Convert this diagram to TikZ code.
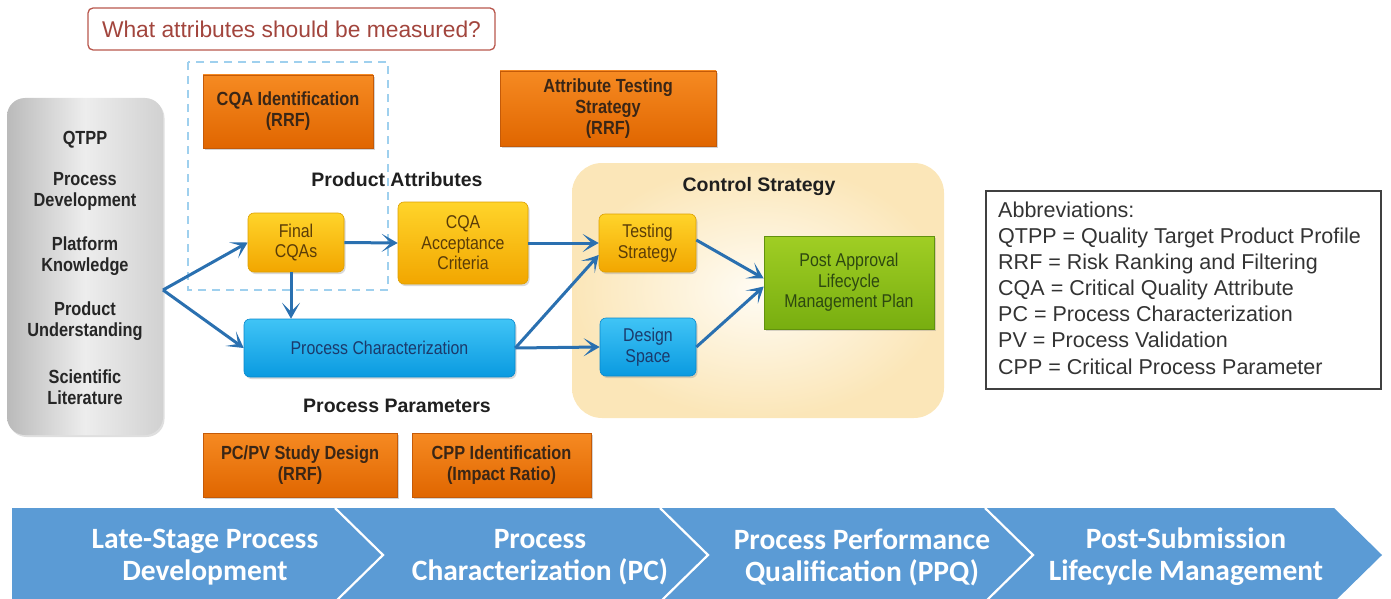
\documentclass[tikz,border=0pt]{standalone}
\usepackage{fontspec}
\setmainfont{Liberation Sans}
\newfontfamily\narrow[FakeStretch=0.86]{Liberation Sans}
\newfontfamily\bandfont{Carlito}
\usetikzlibrary{shadows,arrows.meta}
\definecolor{otop}{HTML}{F68A22}
\definecolor{obot}{HTML}{E06600}
\definecolor{oborder}{HTML}{C45A08}
\definecolor{otext}{HTML}{3A2616}
\definecolor{ytop}{HTML}{FFD42A}
\definecolor{ybot}{HTML}{F2A600}
\definecolor{yborder}{HTML}{DDA000}
\definecolor{ytext}{HTML}{5A3C08}
\definecolor{btop}{HTML}{40C4F6}
\definecolor{bbot}{HTML}{0A9AE0}
\definecolor{bborder}{HTML}{0A88CC}
\definecolor{btext}{HTML}{1B3A6B}
\definecolor{gtop}{HTML}{A0CE24}
\definecolor{gbot}{HTML}{78AE10}
\definecolor{gborder}{HTML}{62920E}
\definecolor{gtext}{HTML}{2D4810}
\definecolor{acol}{HTML}{2A70B0}
\definecolor{band}{HTML}{5B9BD5}
\definecolor{titlecol}{HTML}{A2453D}
\definecolor{titleborder}{HTML}{B8574D}
\definecolor{dashcol}{HTML}{9FD0EE}
\definecolor{panelout}{HTML}{FBE6B8}
\definecolor{panelin}{HTML}{FFFCF4}
\definecolor{abtext}{HTML}{333333}
\begin{document}
\begin{tikzpicture}[x=1pt,y=-1pt,
  obox/.style={rectangle, draw=oborder, line width=0.6pt, top color=otop, bottom color=obot,
    drop shadow={shadow xshift=1.5pt,shadow yshift=-2pt,opacity=0.35},
    font=\narrow\bfseries\fontsize{19}{21}\selectfont, text=otext, align=center, inner sep=2pt},
  rbox/.style={rectangle, rounded corners=6pt, line width=0.6pt, align=center, inner sep=2pt,
    drop shadow={shadow xshift=1.5pt,shadow yshift=-2pt,opacity=0.3},
    font=\narrow\fontsize{18.5}{20.5}\selectfont},
  ybox/.style={rbox, draw=yborder, top color=ytop, bottom color=ybot, text=ytext},
  bbox/.style={rbox, draw=bborder, top color=btop, bottom color=bbot, text=btext},
  gbox/.style={rbox, rounded corners=0pt, draw=gborder, top color=gtop, bottom color=gbot, text=gtext},
  greytxt/.style={font=\narrow\bfseries\fontsize{19}{21}\selectfont, text=black!85, align=center},
  heading/.style={font=\bfseries\fontsize{19.5}{22}\selectfont, text=black!88},
  bandtxt/.style={font=\bandfont\bfseries\fontsize{29.5}{32}\selectfont, text=white, align=center},
  abline/.style={anchor=base west, inner sep=0pt, font=\fontsize{21.5}{26}\selectfont, text=abtext},
  arr/.style={draw=acol, line width=3pt, -{Stealth[length=16pt,width=18pt,inset=9pt]}},
]
\useasboundingbox (0,0) rectangle (1391,599);
\clip (0,0) rectangle (1391,599);

% title
\node[draw=titleborder, line width=1.3pt, rounded corners=5pt, minimum width=407pt, minimum height=42pt,
  font=\fontsize{22.8}{25}\selectfont, text=titlecol] (title) at (291.5,29) {What attributes should be measured?};

% dashed region
\draw[dashcol, line width=2pt, dash pattern=on 8pt off 6pt] (188,62) rectangle (388,290);

% grey source box
\node[rectangle, rounded corners=18pt, minimum width=156pt, minimum height=337pt,
  left color=black!27, right color=black!18, middle color=black!7,
  drop shadow={shadow xshift=1.5pt,shadow yshift=-2pt,opacity=0.25}] (grey) at (85,266.5) {};
\node[greytxt] (g1) at (85,140) {QTPP};
\node[greytxt] (g2) at (85,191) {Process\\Development};
\node[greytxt] (g3) at (85,256) {Platform\\Knowledge};
\node[greytxt] (g4) at (85,321.5) {Product\\Understanding};
\node[greytxt] (g5) at (85,387.5) {Scientific\\Literature};

% control strategy panel
\node[rectangle, rounded corners=30pt, minimum width=372pt, minimum height=255pt,
  inner color=panelin, outer color=panelout] (panel) at (758,290.5) {};
\node[heading] (cstitle) at (759,187) {Control Strategy};

% orange boxes
\node[obox, minimum width=170pt, minimum height=73pt] (cqaid) at (288,111.5) {CQA Identification\\(RRF)};
\node[obox, minimum width=216pt, minimum height=75pt] (ats) at (608,108.5) {Attribute Testing\\Strategy\\(RRF)};
\node[obox, minimum width=194pt, minimum height=64pt] (pcpv) at (300,465) {PC/PV Study Design\\(RRF)};
\node[obox, minimum width=179pt, minimum height=64pt] (cppid) at (501.5,465) {CPP Identification\\(Impact Ratio)};

% headings
\node[heading] (pa) at (397,180) {Product Attributes};
\node[heading] (pp) at (397,406) {Process Parameters};

% flow boxes
\node[ybox, minimum width=96pt, minimum height=59pt] (final) at (296,242.5) {Final\\CQAs};
\node[ybox, minimum width=130pt, minimum height=82pt] (cqaac) at (463,243) {CQA\\Acceptance\\Criteria};
\node[bbox, minimum width=271pt, minimum height=58pt] (pchar) at (379.5,348) {Process Characterization};
\node[ybox, minimum width=97pt, minimum height=58pt] (test) at (647.5,243) {Testing\\Strategy};
\node[bbox, minimum width=96pt, minimum height=58pt] (design) at (648,347) {Design\\Space};
\node[gbox, minimum width=170pt, minimum height=93pt] (post) at (849,282.5) {Post Approval\\Lifecycle\\Management Plan};

% connectors
\coordinate (src) at (163,290);
\draw[arr] (src) -- (final.west);
\draw[arr] (src) -- (pchar.west);
\draw[arr] (final.east) -- (cqaac.west);
\draw[arr] ([xshift=-5pt]final.south) -- ([xshift=-5pt]final.south |- pchar.north);
\draw[arr] (cqaac.east) -- (test.west);
\draw[arr] (pchar.east) -- ([yshift=-12pt]test.west);
\draw[arr] (pchar.east) -- (design.west);
\draw[arr] ([yshift=3pt]test.east) -- ([yshift=4pt]post.west);
\draw[arr] (design.east) -- ([yshift=-4pt]post.west);

% abbreviations
\node[draw=black!75, line width=1.2pt, minimum width=395pt, minimum height=198pt] (abbox) at (1183.5,290) {};
\node[abline] (ab0) at (998,217.5) {Abbreviations:};
\node[abline] (ab1) at (998,243.5) {QTPP = Quality Target Product Profile};
\node[abline] (ab2) at (998,269.5) {RRF = Risk Ranking and Filtering};
\node[abline] (ab3) at (998,295.5) {CQA = Critical Quality Attribute};
\node[abline] (ab4) at (998,321.5) {PC = Process Characterization};
\node[abline] (ab5) at (998,347.5) {PV = Process Validation};
\node[abline] (ab6) at (998,374) {CPP = Critical Process Parameter};

% bottom phase band
\fill[band] (12,508) -- (1334,508) -- (1382,555) -- (1334,602) -- (12,602) -- cycle;
\draw[white, line width=2.2pt] (335,508) -- (383,555) -- (335,602);
\draw[white, line width=2.2pt] (660,508) -- (708,555) -- (660,602);
\draw[white, line width=2.2pt] (985,508) -- (1033,555) -- (985,602);
\node[bandtxt] (ph1) at (205,557) {Late-Stage Process\\Development};
\node[bandtxt] (ph2) at (540,557) {Process\\Characterization (PC)};
\node[bandtxt] (ph3) at (862,557) {Process Performance\\Qualification (PPQ)};
\node[bandtxt] (ph4) at (1186,557) {Post-Submission\\Lifecycle Management};
\end{tikzpicture}
\end{document}
